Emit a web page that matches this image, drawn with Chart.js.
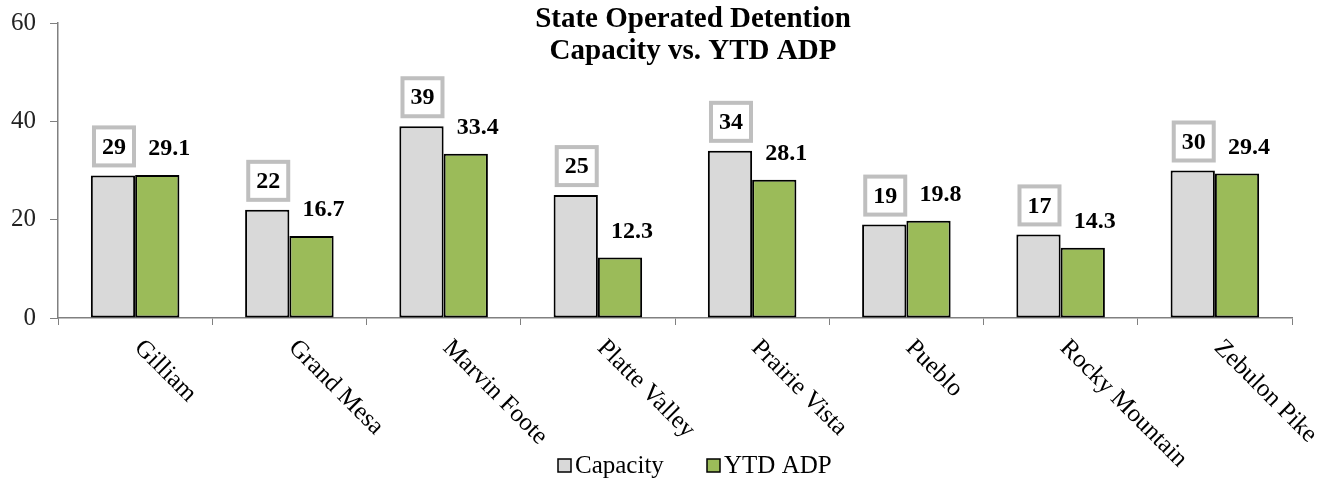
<!DOCTYPE html>
<html>
<head>
<meta charset="utf-8">
<script src="https://cdn.jsdelivr.net/npm/chart.js@4/dist/chart.umd.min.js"></script>
<style>
  html, body { margin: 0; padding: 0; background: #fff; }
  #wrap { width: 1330px; height: 482px; }
</style>
</head>
<body>
<div id="wrap"><canvas id="chart" width="1330" height="482"></canvas></div>
<script>
// data
const categories = ['Gilliam', 'Grand Mesa', 'Marvin Foote', 'Platte Valley', 'Prairie Vista', 'Pueblo', 'Rocky Mountain', 'Zebulon Pike'];
const capacity = [29, 22, 39, 25, 34, 19, 17, 30];
const ytdAdp = [29.1, 16.7, 33.4, 12.3, 28.1, 19.8, 14.3, 29.4];
const seriesNames = ['Capacity', 'YTD ADP'];
const titleLines = ['State Operated Detention', 'Capacity vs. YTD ADP'];

const FONT = '"Liberation Serif", "DejaVu Serif", serif';
const GRAY = '#d9d9d9';
const GREEN = '#9bbb59';

// value labels, rotated category labels, title and legend
const decorations = {
    id: 'decorations',
    afterDatasetsDraw(chart) {
        const c = chart.ctx;
        c.save();

        // capacity labels in boxes
        const capMeta = chart.getDatasetMeta(0);
        capMeta.data.forEach(function (bar, i) {
            const cx = bar.x + 1;
            const cy = bar.y - 29;
            c.fillStyle = '#fff';
            c.fillRect(cx - 20, cy - 19, 40, 38);
            c.strokeStyle = '#bfbfbf';
            c.lineWidth = 4;
            c.strokeRect(cx - 20, cy - 19, 40, 38);
            c.fillStyle = '#000';
            c.font = 'bold 24px ' + FONT;
            c.textAlign = 'center';
            c.textBaseline = 'middle';
            c.fillText(String(capacity[i]), cx, cy + 1);
        });

        // ADP labels
        const adpMeta = chart.getDatasetMeta(1);
        adpMeta.data.forEach(function (bar, i) {
            c.fillStyle = '#000';
            c.font = 'bold 24px ' + FONT;
            c.textAlign = 'center';
            c.textBaseline = 'middle';
            c.fillText(ytdAdp[i].toFixed(1), bar.x + 12, bar.y - 26);
        });

        // category labels, 45 deg down-right
        const xs = chart.scales.x;
        c.font = '25px ' + FONT;
        c.fillStyle = '#000';
        c.textAlign = 'left';
        c.textBaseline = 'middle';
        categories.forEach(function (name, i) {
            const px = xs.getPixelForTick(i);
            c.save();
            c.translate(px + 3, xs.top + 26);
            c.rotate(Math.PI / 4);
            c.fillText(name, 0, 0);
            c.restore();
        });

        // title
        c.font = 'bold 29px ' + FONT;
        c.textAlign = 'center';
        c.fillText(titleLines[0], 693, 20);
        c.fillText(titleLines[1], 693, 52);

        // legend
        const items = [[558, GRAY, seriesNames[0]], [707, GREEN, seriesNames[1]]];
        c.font = '25px ' + FONT;
        c.textAlign = 'left';
        items.forEach(function (it) {
            c.fillStyle = it[1];
            c.fillRect(it[0], 459, 13, 13);
            c.strokeStyle = '#000';
            c.lineWidth = 1.5;
            c.strokeRect(it[0], 459, 13, 13);
            c.fillStyle = '#000';
            c.fillText(it[2], it[0] + 17, 466);
        });

        c.restore();
    }
};

new Chart(document.getElementById('chart'), {
    type: 'bar',
    data: {
        labels: categories,
        datasets: [{
            label: seriesNames[0],
            data: capacity,
            backgroundColor: GRAY,
            borderColor: '#000',
            borderWidth: 2,
            borderSkipped: false
        }, {
            label: seriesNames[1],
            data: ytdAdp,
            backgroundColor: GREEN,
            borderColor: '#000',
            borderWidth: 2,
            borderSkipped: false
        }]
    },
    options: {
        responsive: false,
        animation: false,
        events: [],
        categoryPercentage: 0.574,
        barPercentage: 1,
        layout: { padding: { top: 23, right: 38, left: 0, bottom: 0 } },
        plugins: {
            legend: { display: false },
            title: { display: false },
            tooltip: { enabled: false }
        },
        scales: {
            x: {
                grid: { drawOnChartArea: false, tickLength: 7, color: '#808080' },
                border: { color: '#808080', width: 1.5 },
                ticks: { display: false },
                afterFit(scale) { scale.height = 164; }
            },
            y: {
                min: 0,
                max: 60,
                grid: { drawOnChartArea: false, tickLength: 8, color: '#808080' },
                border: { color: '#808080', width: 1.5 },
                ticks: {
                    stepSize: 20,
                    padding: 14,
                    color: '#222',
                    font: { family: FONT, size: 25 }
                },
                afterFit(scale) {
                    scale.width = 58;
                    scale.paddingTop = 0;
                    scale.paddingBottom = 0;
                }
            }
        }
    },
    plugins: [decorations]
});
</script>
</body>
</html>
